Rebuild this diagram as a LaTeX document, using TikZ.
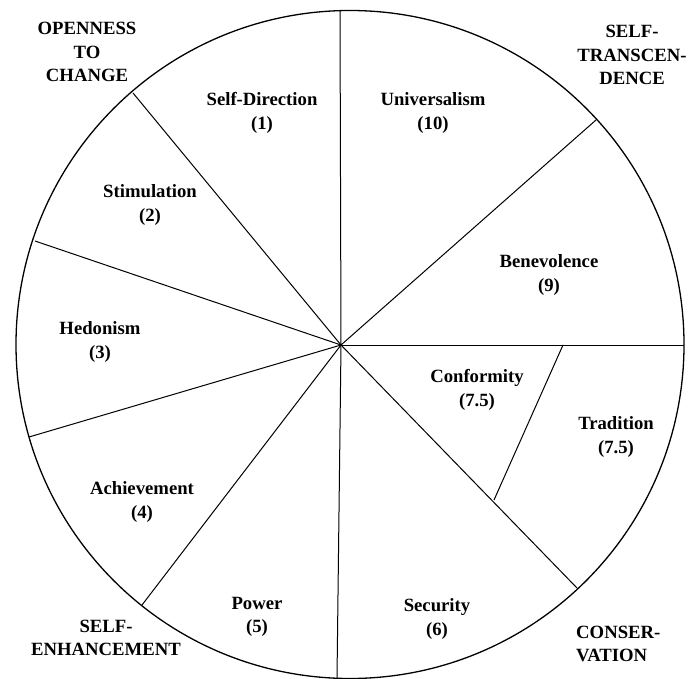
\documentclass[tikz,border=0pt]{standalone}
\usepackage{fontspec}
\setmainfont{Liberation Serif}
\begin{document}
\begin{tikzpicture}[x=1pt,y=-1pt,
  lbl/.style={font=\bfseries\fontsize{18.7}{23.5}\selectfont, align=center, inner sep=0pt},
  grp/.style={font=\bfseries\fontsize{18.7}{23.5}\selectfont, align=center, inner sep=0pt},
  spoke/.style={line width=1pt},
  rim/.style={line width=1.3pt}]
\useasboundingbox (0,0) rectangle (688,679);
\coordinate (c) at (350,344.5);
\coordinate (hub) at (341,345);
\draw[rim] (c) circle (334pt);
% rim points
\coordinate (p1) at (340,11);
\coordinate (p2) at (133,93);
\coordinate (p3) at (35,241);
\coordinate (p4) at (29,437);
\coordinate (p5) at (142,605);
\coordinate (p6) at (337,678);
\coordinate (p7) at (577,588);
\coordinate (p8) at (684,345);
\coordinate (p9) at (596,120);
\foreach \p in {p1,p2,p3,p4,p5,p6,p7,p8,p9} \draw[spoke] (hub) -- (\p);
\coordinate (t1) at (563,345);
\coordinate (t2) at (494,500);
\draw[spoke] (t1) -- (t2);
% sector labels
\node[lbl] (sd) at (262,113) {Self-Direction\\(1)};
\node[lbl] (st) at (150,205) {Stimulation\\(2)};
\node[lbl] (he) at (100,342) {Hedonism\\(3)};
\node[lbl] (ac) at (142,502) {Achievement\\(4)};
\node[lbl] (po) at (257,617) {Power\\(5)};
\node[lbl] (se) at (437,619) {Security\\(6)};
\node[lbl] (co) at (477,390) {Conformity\\(7.5)};
\node[lbl] (tr) at (616,437) {Tradition\\(7.5)};
\node[lbl] (un) at (433,113) {Universalism\\(10)};
\node[lbl] (be) at (549,275) {Benevolence\\(9)};
% group labels
\node[grp] (open) at (87,52) {OPENNESS\\TO\\CHANGE};
\node[grp] (trans) at (632,55) {SELF-\\TRANSCEN-\\DENCE};
\node[grp] (enh) at (106,638) {SELF-\\ENHANCEMENT};
\node[grp, align=left, anchor=west] (cons) at (576,644) {CONSER-\\VATION};
\end{tikzpicture}
\end{document}
